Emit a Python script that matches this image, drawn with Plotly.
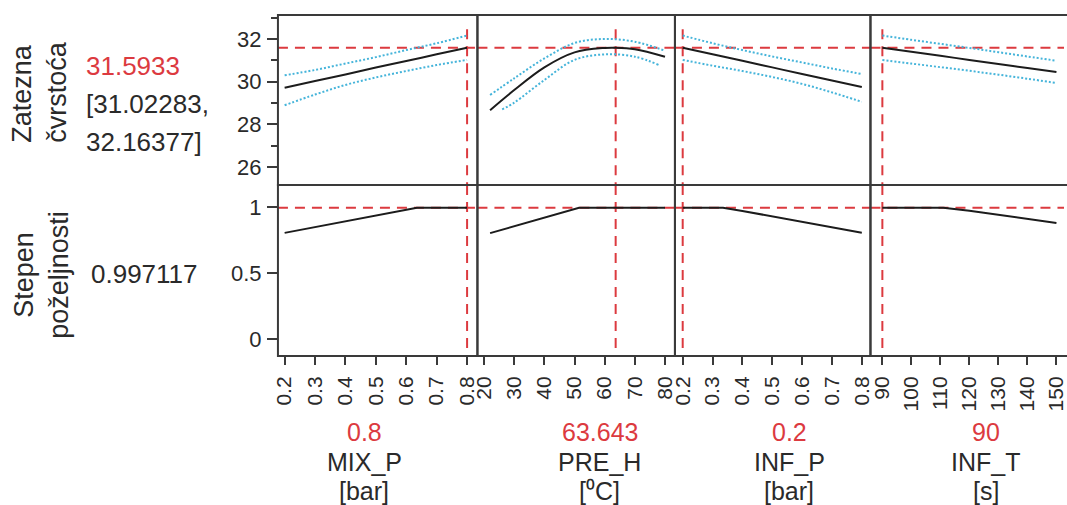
import plotly.graph_objects as go

W, H = 1067, 505

# ---- factor settings (current values) ----
factor_names = ["MIX_P", "PRE_H", "INF_P", "INF_T"]
factor_units = ["[bar]", "[⁰C]", "[bar]", "[s]"]
factor_current = [0.8, 63.643, 0.2, 90]
factor_current_text = ["0.8", "63.643", "0.2", "90"]

# ---- response: Zatezna čvrstoća ----
pred_value = 31.5933
pred_low, pred_high = 31.02283, 32.16377
desirability_value = 0.997117

# MIX_P profile
mix_p_x = [0.2, 0.3, 0.4, 0.5, 0.6, 0.7, 0.8]
mix_p_pred = [29.72, 30.03, 30.34, 30.66, 30.97, 31.28, 31.59]
mix_p_upper = [30.30, 30.55, 30.85, 31.15, 31.48, 31.80, 32.16]
mix_p_lower = [28.90, 29.40, 29.85, 30.20, 30.50, 30.78, 31.02]
mix_p_des_x = [0.2, 0.3, 0.4, 0.5, 0.6, 0.635, 0.7, 0.8]
mix_p_des = [0.806, 0.851, 0.896, 0.941, 0.985, 0.997, 0.997, 0.997]

# PRE_H profile
pre_h_x = [22, 30, 40, 50, 60, 63.643, 70, 80]
pre_h_pred = [28.67, 29.61, 30.67, 31.37, 31.58, 31.59, 31.52, 31.17]
pre_h_upper_x = [22, 30, 40, 50, 60, 70, 80]
pre_h_upper = [29.38, 30.16, 31.09, 31.81, 32.00, 31.87, 31.45]
pre_h_lower_x = [26, 30, 40, 50, 60, 70, 78]
pre_h_lower = [28.71, 29.02, 30.08, 31.02, 31.28, 31.17, 30.78]
pre_h_des_x = [22, 30, 40, 51.5, 63.643, 80]
pre_h_des = [0.804, 0.857, 0.923, 0.997, 0.997, 0.997]

# INF_P profile
inf_p_x = [0.2, 0.3, 0.4, 0.5, 0.6, 0.7, 0.8]
inf_p_pred = [31.59, 31.28, 30.98, 30.67, 30.36, 30.06, 29.75]
inf_p_upper = [32.16, 31.80, 31.48, 31.18, 30.90, 30.62, 30.36]
inf_p_lower = [31.02, 30.75, 30.50, 30.22, 29.90, 29.50, 29.06]
inf_p_des_x = [0.2, 0.335, 0.4, 0.5, 0.6, 0.7, 0.8]
inf_p_des = [0.997, 0.997, 0.973, 0.932, 0.890, 0.849, 0.807]

# INF_T profile
inf_t_x = [90, 100, 110, 120, 130, 140, 150]
inf_t_pred = [31.59, 31.40, 31.21, 31.02, 30.83, 30.64, 30.45]
inf_t_upper = [32.16, 31.96, 31.77, 31.58, 31.38, 31.18, 30.98]
inf_t_lower = [31.02, 30.85, 30.68, 30.51, 30.33, 30.14, 29.94]
inf_t_des_x = [90, 111, 120, 130, 140, 150]
inf_t_des = [0.997, 0.997, 0.974, 0.943, 0.912, 0.881]

# ---- axes: ranges and tick labels ----
x_ranges = [[0.178, 0.834], [17.8, 83.3], [0.174, 0.829], [85.9, 152.6]]
mix_p_ticks = [0.2, 0.3, 0.4, 0.5, 0.6, 0.7, 0.8]
mix_p_ticktext = ["0.2", "0.3", "0.4", "0.5", "0.6", "0.7", "0.8"]
pre_h_ticks = [20, 30, 40, 50, 60, 70, 80]
pre_h_ticktext = ["20", "30", "40", "50", "60", "70", "80"]
inf_p_ticks = [0.2, 0.3, 0.4, 0.5, 0.6, 0.7, 0.8]
inf_p_ticktext = ["0.2", "0.3", "0.4", "0.5", "0.6", "0.7", "0.8"]
inf_t_ticks = [90, 100, 110, 120, 130, 140, 150]
inf_t_ticktext = ["90", "100", "110", "120", "130", "140", "150"]

resp_range = [25.17, 33.12]
resp_ticks = [26, 28, 30, 32]
resp_ticktext = ["26", "28", "30", "32"]
des_range = [-0.13, 1.17]
des_ticks = [0, 0.5, 1]
des_ticktext = ["0", "0.5", "1"]

# top end of the current-setting marker in each row
marker_top_resp = 32.45
marker_bottom_des = -0.08

FONT = "Arial, 'Liberation Sans', Helvetica, sans-serif"
RED = "#dc3a3f"
BLUE = "#45b4da"
BLACK = "#1c1c1c"
FRAME = "#3a3a3a"
TEXT = "#2a2a2a"

profiles = [
    dict(px=mix_p_x, pred=mix_p_pred, ux=mix_p_x, up=mix_p_upper, lx=mix_p_x, lo=mix_p_lower,
         dx=mix_p_des_x, d=mix_p_des, tv=mix_p_ticks, tt=mix_p_ticktext),
    dict(px=pre_h_x, pred=pre_h_pred, ux=pre_h_upper_x, up=pre_h_upper, lx=pre_h_lower_x, lo=pre_h_lower,
         dx=pre_h_des_x, d=pre_h_des, tv=pre_h_ticks, tt=pre_h_ticktext),
    dict(px=inf_p_x, pred=inf_p_pred, ux=inf_p_x, up=inf_p_upper, lx=inf_p_x, lo=inf_p_lower,
         dx=inf_p_des_x, d=inf_p_des, tv=inf_p_ticks, tt=inf_p_ticktext),
    dict(px=inf_t_x, pred=inf_t_pred, ux=inf_t_x, up=inf_t_upper, lx=inf_t_x, lo=inf_t_lower,
         dx=inf_t_des_x, d=inf_t_des, tv=inf_t_ticks, tt=inf_t_ticktext),
]

edges_px = [275, 476, 675, 872, 1067]
top_dom = [1 - 185 / H, 1 - 15 / H]
bot_dom = [1 - 356 / H, 1 - 185 / H]

fig = go.Figure()


def ax_names(k):
    return ("x" if k == 1 else f"x{k}"), ("y" if k == 1 else f"y{k}")


dash_red = "10px,7px"
dot_blue = "2px,2px"
shapes = []

for c, p in enumerate(profiles):
    xr = x_ranges[c]
    cur = factor_current[c]
    for row in range(2):
        k = row * 4 + c + 1
        xa, ya = ax_names(k)
        if row == 0:
            # current prediction level and setting
            fig.add_trace(go.Scatter(x=xr, y=[pred_value, pred_value], xaxis=xa, yaxis=ya, mode="lines",
                                     line=dict(color=RED, width=2, dash=dash_red), hoverinfo="skip"))
            fig.add_trace(go.Scatter(x=[cur, cur], y=[marker_top_resp, resp_range[0]], xaxis=xa, yaxis=ya,
                                     mode="lines", line=dict(color=RED, width=2, dash=dash_red), hoverinfo="skip"))
            # confidence band
            fig.add_trace(go.Scatter(x=p["ux"], y=p["up"], xaxis=xa, yaxis=ya, mode="lines",
                                     line=dict(color=BLUE, width=2, dash=dot_blue, shape="spline"), hoverinfo="skip"))
            fig.add_trace(go.Scatter(x=p["lx"], y=p["lo"], xaxis=xa, yaxis=ya, mode="lines",
                                     line=dict(color=BLUE, width=2, dash=dot_blue, shape="spline"), hoverinfo="skip"))
            # prediction trace
            fig.add_trace(go.Scatter(x=p["px"], y=p["pred"], xaxis=xa, yaxis=ya, mode="lines",
                                     line=dict(color=BLACK, width=2, shape="spline"), name="Zatezna čvrstoća"))
        else:
            fig.add_trace(go.Scatter(x=xr, y=[desirability_value, desirability_value], xaxis=xa, yaxis=ya,
                                     mode="lines", line=dict(color=RED, width=2, dash=dash_red), hoverinfo="skip"))
            fig.add_trace(go.Scatter(x=[cur, cur], y=[des_range[1], marker_bottom_des], xaxis=xa, yaxis=ya,
                                     mode="lines", line=dict(color=RED, width=2, dash=dash_red), hoverinfo="skip"))
            fig.add_trace(go.Scatter(x=p["dx"], y=p["d"], xaxis=xa, yaxis=ya, mode="lines",
                                     line=dict(color=BLACK, width=2), name="Stepen poželjnosti"))

        # panel frame; shared edges coincide, the last column runs off the right edge
        shapes.append(dict(type="rect", xref=f"{xa} domain", yref=f"{ya} domain",
                           x0=0, x1=1.03 if c == 3 else 1, y0=0, y1=1,
                           line=dict(color=FRAME, width=2), layer="above"))

        xdom = [edges_px[c] / W, edges_px[c + 1] / W]
        xkey = "xaxis" if k == 1 else f"xaxis{k}"
        ykey = "yaxis" if k == 1 else f"yaxis{k}"
        xaxis = dict(domain=xdom, range=xr, anchor=ya, showgrid=False, zeroline=False, showline=False,
                     tickvals=p["tv"], ticktext=p["tt"])
        if row == 1:
            xaxis.update(ticks="outside", ticklen=8, tickwidth=2, tickcolor=FRAME, tickangle=-90,
                         tickfont=dict(family=FONT, size=21, color=TEXT), showticklabels=True,
                         ticklabeloverflow="allow", ticklabelstandoff=3)
        else:
            xaxis.update(ticks="", showticklabels=False)
        yaxis = dict(domain=top_dom if row == 0 else bot_dom, range=resp_range if row == 0 else des_range,
                     anchor=xa, showgrid=False, zeroline=False, showline=False)
        if c == 0:
            yaxis.update(ticks="outside", ticklen=10, tickwidth=2, tickcolor=FRAME,
                         tickfont=dict(family=FONT, size=22, color=TEXT),
                         tickvals=resp_ticks if row == 0 else des_ticks,
                         ticktext=resp_ticktext if row == 0 else des_ticktext,
                         ticklabelstandoff=1)
            if row == 0:
                yaxis.update(minor=dict(ticks="outside", ticklen=6, tickwidth=2, tickcolor=FRAME, dtick=1))
        else:
            yaxis.update(ticks="", showticklabels=False)
        fig.layout[xkey] = xaxis
        fig.layout[ykey] = yaxis


def px(x, y):
    return x / W, 1 - y / H


annotations = []


def note(text, x, y, size=26, color=TEXT, xanchor="center", angle=0, align="center"):
    xp, yp = px(x, y)
    annotations.append(dict(text=text, x=xp, y=yp, xref="paper", yref="paper", xanchor=xanchor,
                            yanchor="middle", showarrow=False, textangle=angle, align=align,
                            font=dict(family=FONT, size=size, color=color)))


# response labels on the left
note("Zatezna<br>čvrstoća", 35, 92, size=27, angle=-90, align="left")
note(f"{pred_value:.4f}", 80, 66, color=RED, xanchor="left")
note(f"[{pred_low:.5f},", 80, 104, xanchor="left")
note(f"{pred_high:.5f}]", 80, 142, xanchor="left")
note("Stepen<br>poželjnosti", 36, 275, size=27, angle=-90)
note(f"{desirability_value:.6f}", 85, 274, xanchor="left")

# factor labels under the columns
label_cx = [362, 599, 790, 988]
for c in range(4):
    note(factor_current_text[c], label_cx[c], 432, size=25, color=RED)
    note(factor_names[c], label_cx[c], 462, size=25)
    note(factor_units[c], label_cx[c], 491, size=25)

fig.update_layout(width=W, height=H, margin=dict(l=0, r=0, t=0, b=0), showlegend=False,
                  paper_bgcolor="white", plot_bgcolor="white", annotations=annotations, shapes=shapes)

fig.write_html("out.html")
